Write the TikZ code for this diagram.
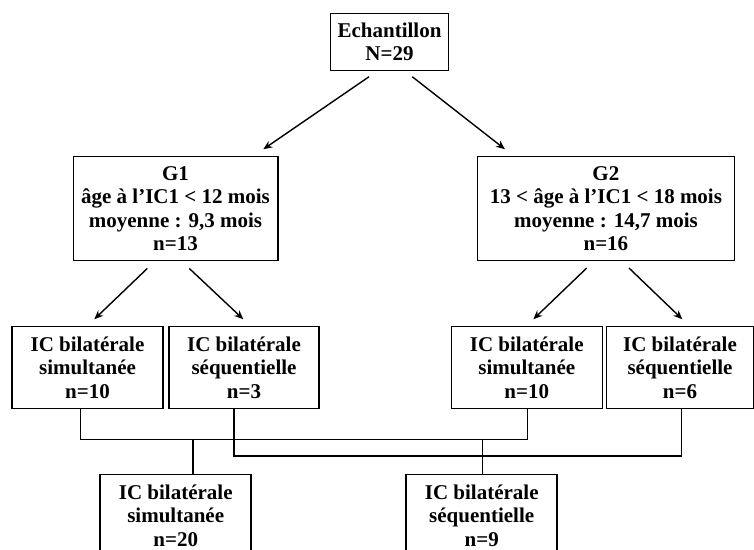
\documentclass[tikz,border=0pt]{standalone}
\usepackage{fontspec}
\setmainfont{Liberation Serif}
\usetikzlibrary{shapes,arrows.meta}
\tikzset{
    %Define standard arrow tip
    >={Stealth[length=9pt,width=7.5pt]},
    %Define style for boxes
    block/.style={
           rectangle,
           draw=black,
           line width=1.5pt,
           inner sep=0pt,
           align=center,
           font=\bfseries\fontsize{21}{23.5}\selectfont},
    %Define style for the lower boxes
    leaf/.style={
           block,
           minimum width=151pt,
           minimum height=81.6pt},
    % Define arrow style
    arrow/.style={
           ->,
           line width=1.4pt},
    % Define style for joining lines
    link/.style={
           line width=1.4pt}
}

\begin{document}
\begin{tikzpicture}[x=1pt, y=-1pt]
    \useasboundingbox (0,0) rectangle (754,549);
    \node [block, minimum width=117.6pt, minimum height=57.4pt] (ECH) at (389.5,42) {Echantillon\\N=29};
    \node [block, minimum width=204.5pt, minimum height=104pt] (G1) at (175.5,208.7) {G1\\âge à l’IC1 < 12 mois\\moyenne : 9,3 mois\\n=13};
    \node [block, minimum width=256.8pt, minimum height=104pt] (G2) at (605.9,208.7) {G2\\13 < âge à l’IC1 < 18 mois\\moyenne : 14,7 mois\\n=16};
    \node [leaf] (SIM1) at (87.5,367.5) {IC bilatérale\\simultanée\\n=10};
    \node [leaf, minimum width=150pt] (SEQ1) at (244,367.5) {IC bilatérale\\séquentielle\\n=3};
    \node [leaf] (SIM2) at (526.75,367.5) {IC bilatérale\\simultanée\\n=10};
    \node [leaf, minimum width=147pt] (SEQ2) at (680,367.5) {IC bilatérale\\séquentielle\\n=6};
    \node [leaf] (SIM) at (175.7,515.5) {IC bilatérale\\simultanée\\n=20};
    \node [leaf] (SEQ) at (481.7,515.5) {IC bilatérale\\séquentielle\\n=9};
    \coordinate (simRail) at (0,439.3);
    \coordinate (seqRail) at (0,456);

    \draw [arrow] ([shift={(-20.5,5.3)}]ECH.south) -- ([shift={(87.8,-6.7)}]G1.north);
    \draw [arrow] ([shift={(22.8,5.3)}]ECH.south) -- ([shift={(-100.9,-6.7)}]G2.north);
    \draw [arrow] ([shift={(-28.2,7)}]G1.south) -- ([shift={(6.8,-6.7)}]SIM1.north);
    \draw [arrow] ([shift={(13.8,7)}]G1.south) -- ([shift={(-0.7,-6.7)}]SEQ1.north);
    \draw [arrow] ([shift={(-19.2,6.6)}]G2.south) -- ([shift={(6.55,-6.7)}]SIM2.north);
    \draw [arrow] ([shift={(23.1,6.6)}]G2.south) -- ([shift={(2.3,-6.7)}]SEQ2.north);

    \draw [link] ([xshift=-7.1pt]SIM1.south) |- ([xshift=0.65pt]SIM2.south |- simRail) -- ([xshift=0.65pt]SIM2.south);
    \draw [link] ([xshift=-10pt]SEQ1.south) |- ([xshift=1.5pt]SEQ2.south |- seqRail) -- ([xshift=1.5pt]SEQ2.south);
    \draw [link] ([xshift=17.1pt]SIM.north |- simRail) -- ([xshift=17.1pt]SIM.north);
    \draw [link] ([xshift=0.6pt]SEQ.north |- simRail) -- ([xshift=0.6pt]SEQ.north);
\end{tikzpicture}
\end{document}
